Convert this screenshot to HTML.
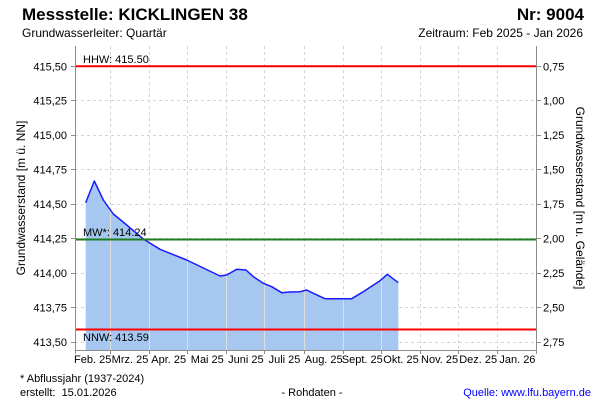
<!DOCTYPE html>
<html>
<head>
<meta charset="utf-8">
<style>
  html, body { margin: 0; padding: 0; background: #ffffff; }
  svg { display: block; }
  text { font-family: "Liberation Sans", Arial, sans-serif; fill: #000; }
</style>
</head>
<body>
<svg width="600" height="400" viewBox="0 0 600 400" xmlns="http://www.w3.org/2000/svg">
  <rect x="0" y="0" width="600" height="400" fill="#ffffff"/>

  <!-- Titles -->
  <text x="22" y="20" font-size="17" font-weight="bold">Messstelle: KICKLINGEN 38</text>
  <text x="584" y="20" font-size="17" font-weight="bold" text-anchor="end">Nr: 9004</text>
  <text x="22" y="37" font-size="12">Grundwasserleiter: Quartär</text>
  <text x="583" y="37" font-size="12" text-anchor="end">Zeitraum: Feb 2025 - Jan 2026</text>

  <!-- Horizontal dashed grid -->
  <g stroke="#d4d4d4" stroke-width="1" stroke-dasharray="3,3">
    <line x1="75" y1="342.5" x2="537" y2="342.5"/>
    <line x1="75" y1="307.5" x2="537" y2="307.5"/>
    <line x1="75" y1="273.5" x2="537" y2="273.5"/>
    <line x1="75" y1="238.5" x2="537" y2="238.5"/>
    <line x1="75" y1="204.5" x2="537" y2="204.5"/>
    <line x1="75" y1="169.5" x2="537" y2="169.5"/>
    <line x1="75" y1="135.5" x2="537" y2="135.5"/>
    <line x1="75" y1="100.5" x2="537" y2="100.5"/>
    <line x1="75" y1="66.5" x2="537" y2="66.5"/>
  </g>
  <!-- Vertical dashed grid -->
  <g stroke="#d4d4d4" stroke-width="1" stroke-dasharray="3,3">
    <line x1="110.5" y1="46" x2="110.5" y2="350"/>
    <line x1="149.5" y1="46" x2="149.5" y2="350"/>
    <line x1="187.5" y1="46" x2="187.5" y2="350"/>
    <line x1="226.5" y1="46" x2="226.5" y2="350"/>
    <line x1="264.5" y1="46" x2="264.5" y2="350"/>
    <line x1="304.5" y1="46" x2="304.5" y2="350"/>
    <line x1="343.5" y1="46" x2="343.5" y2="350"/>
    <line x1="381.5" y1="46" x2="381.5" y2="350"/>
    <line x1="420.5" y1="46" x2="420.5" y2="350"/>
    <line x1="458.5" y1="46" x2="458.5" y2="350"/>
    <line x1="497.5" y1="46" x2="497.5" y2="350"/>
  </g>

  <defs>
    <clipPath id="fillclip">
      <polygon points="85.7,350 85.7,202.7 94.3,181 103.3,200 113.3,214 126.7,225 143.3,239 160,249.3 186.7,260 220,276 226.7,275 236.7,269.3 246,270 253.3,276.7 263.3,283.3 271.7,286.7 281.7,292.7 290,292 300,291.7 306.7,290 313.3,293.3 325,298.7 351.7,298.7 361.7,292.7 380,280.7 387.3,274.3 398.3,282.7 398.3,350"/>
    </clipPath>
  </defs>

  <!-- Area fill -->
  <polygon fill="#a6c8f0" points="85.7,350 85.7,202.7 94.3,181 103.3,200 113.3,214 126.7,225 143.3,239 160,249.3 186.7,260 220,276 226.7,275 236.7,269.3 246,270 253.3,276.7 263.3,283.3 271.7,286.7 281.7,292.7 290,292 300,291.7 306.7,290 313.3,293.3 325,298.7 351.7,298.7 361.7,292.7 380,280.7 387.3,274.3 398.3,282.7 398.3,350"/>
  <!-- Solid grid lines over fill -->
  <g stroke="#dcdcdc" stroke-width="1" clip-path="url(#fillclip)">
    <line x1="110.5" y1="46" x2="110.5" y2="350"/>
    <line x1="149.5" y1="46" x2="149.5" y2="350"/>
    <line x1="187.5" y1="46" x2="187.5" y2="350"/>
    <line x1="226.5" y1="46" x2="226.5" y2="350"/>
    <line x1="264.5" y1="46" x2="264.5" y2="350"/>
    <line x1="304.5" y1="46" x2="304.5" y2="350"/>
    <line x1="343.5" y1="46" x2="343.5" y2="350"/>
    <line x1="381.5" y1="46" x2="381.5" y2="350"/>
  </g>
  <!-- Series line -->
  <polyline fill="none" stroke="#1a1aff" stroke-width="1.5" stroke-linejoin="round" points="85.7,202.7 94.3,181 103.3,200 113.3,214 126.7,225 143.3,239 160,249.3 186.7,260 220,276 226.7,275 236.7,269.3 246,270 253.3,276.7 263.3,283.3 271.7,286.7 281.7,292.7 290,292 300,291.7 306.7,290 313.3,293.3 325,298.7 351.7,298.7 361.7,292.7 380,280.7 387.3,274.3 398.3,282.7"/>

  <!-- Reference lines -->
  <line x1="75" y1="66.3" x2="537" y2="66.3" stroke="#ff0000" stroke-width="2"/>
  <line x1="75" y1="239.5" x2="537" y2="239.5" stroke="#1e7d1e" stroke-width="2"/>
  <line x1="75" y1="329.5" x2="537" y2="329.5" stroke="#ff0000" stroke-width="2"/>
  <text x="83" y="63" font-size="11">HHW: 415.50</text>
  <text x="83" y="236" font-size="11">MW*: 414.24</text>
  <text x="83" y="341" font-size="11">NNW: 413.59</text>

  <!-- Axes -->
  <g stroke="#8c8c8c" stroke-width="1">
    <line x1="75.5" y1="46" x2="75.5" y2="350.5"/>
    <line x1="536.5" y1="46" x2="536.5" y2="350.5"/>
    <line x1="75" y1="350.5" x2="537" y2="350.5"/>
    <!-- left ticks -->
    <line x1="71" y1="342.5" x2="75" y2="342.5"/>
    <line x1="71" y1="307.5" x2="75" y2="307.5"/>
    <line x1="71" y1="273.5" x2="75" y2="273.5"/>
    <line x1="71" y1="238.5" x2="75" y2="238.5"/>
    <line x1="71" y1="204.5" x2="75" y2="204.5"/>
    <line x1="71" y1="169.5" x2="75" y2="169.5"/>
    <line x1="71" y1="135.5" x2="75" y2="135.5"/>
    <line x1="71" y1="100.5" x2="75" y2="100.5"/>
    <line x1="71" y1="66.5" x2="75" y2="66.5"/>
    <!-- right ticks -->
    <line x1="537" y1="342.5" x2="541" y2="342.5"/>
    <line x1="537" y1="307.5" x2="541" y2="307.5"/>
    <line x1="537" y1="273.5" x2="541" y2="273.5"/>
    <line x1="537" y1="238.5" x2="541" y2="238.5"/>
    <line x1="537" y1="204.5" x2="541" y2="204.5"/>
    <line x1="537" y1="169.5" x2="541" y2="169.5"/>
    <line x1="537" y1="135.5" x2="541" y2="135.5"/>
    <line x1="537" y1="100.5" x2="541" y2="100.5"/>
    <line x1="537" y1="66.5" x2="541" y2="66.5"/>
    <!-- bottom ticks -->
    <line x1="75.5" y1="350" x2="75.5" y2="354"/>
    <line x1="110.5" y1="350" x2="110.5" y2="354"/>
    <line x1="149.5" y1="350" x2="149.5" y2="354"/>
    <line x1="187.5" y1="350" x2="187.5" y2="354"/>
    <line x1="226.5" y1="350" x2="226.5" y2="354"/>
    <line x1="264.5" y1="350" x2="264.5" y2="354"/>
    <line x1="304.5" y1="350" x2="304.5" y2="354"/>
    <line x1="343.5" y1="350" x2="343.5" y2="354"/>
    <line x1="381.5" y1="350" x2="381.5" y2="354"/>
    <line x1="420.5" y1="350" x2="420.5" y2="354"/>
    <line x1="458.5" y1="350" x2="458.5" y2="354"/>
    <line x1="497.5" y1="350" x2="497.5" y2="354"/>
    <line x1="536.5" y1="350" x2="536.5" y2="354"/>
  </g>

  <!-- Left tick labels -->
  <g font-size="11" text-anchor="end">
    <text x="67" y="70.5">415,50</text>
    <text x="67" y="104.5">415,25</text>
    <text x="67" y="139">415,00</text>
    <text x="67" y="173.5">414,75</text>
    <text x="67" y="208">414,50</text>
    <text x="67" y="242.5">414,25</text>
    <text x="67" y="277">414,00</text>
    <text x="67" y="311.5">413,75</text>
    <text x="67" y="346">413,50</text>
  </g>
  <!-- Right tick labels -->
  <g font-size="11">
    <text x="543" y="70.5">0,75</text>
    <text x="543" y="104.5">1,00</text>
    <text x="543" y="139">1,25</text>
    <text x="543" y="173.5">1,50</text>
    <text x="543" y="208">1,75</text>
    <text x="543" y="242.5">2,00</text>
    <text x="543" y="277">2,25</text>
    <text x="543" y="311.5">2,50</text>
    <text x="543" y="346">2,75</text>
  </g>

  <!-- Axis titles -->
  <text font-size="12" text-anchor="middle" transform="translate(25,198) rotate(-90)">Grundwasserstand [m ü. NN]</text>
  <text font-size="12" text-anchor="middle" transform="translate(576,198) rotate(90)">Grundwasserstand [m u. Gelände]</text>

  <!-- X labels -->
  <g font-size="11" text-anchor="middle">
    <text x="92.7" y="363">Feb. 25</text>
    <text x="130" y="363">Mrz. 25</text>
    <text x="168.7" y="363">Apr. 25</text>
    <text x="207.3" y="363">Mai 25</text>
    <text x="245.9" y="363">Juni 25</text>
    <text x="284.5" y="363">Juli 25</text>
    <text x="323.7" y="363">Aug. 25</text>
    <text x="362.3" y="363">Sept. 25</text>
    <text x="401" y="363">Okt. 25</text>
    <text x="439.6" y="363">Nov. 25</text>
    <text x="478.2" y="363">Dez. 25</text>
    <text x="517.4" y="363">Jan. 26</text>
  </g>

  <!-- Footer -->
  <text x="20" y="382" font-size="11">* Abflussjahr (1937-2024)</text>
  <text x="20" y="396" font-size="11" xml:space="preserve">erstellt:  15.01.2026</text>
  <text x="312" y="396" font-size="11" text-anchor="middle">- Rohdaten -</text>
  <text x="591" y="396" font-size="11" text-anchor="end" style="fill:#0000ff">Quelle: www.lfu.bayern.de</text>
</svg>
</body>
</html>
